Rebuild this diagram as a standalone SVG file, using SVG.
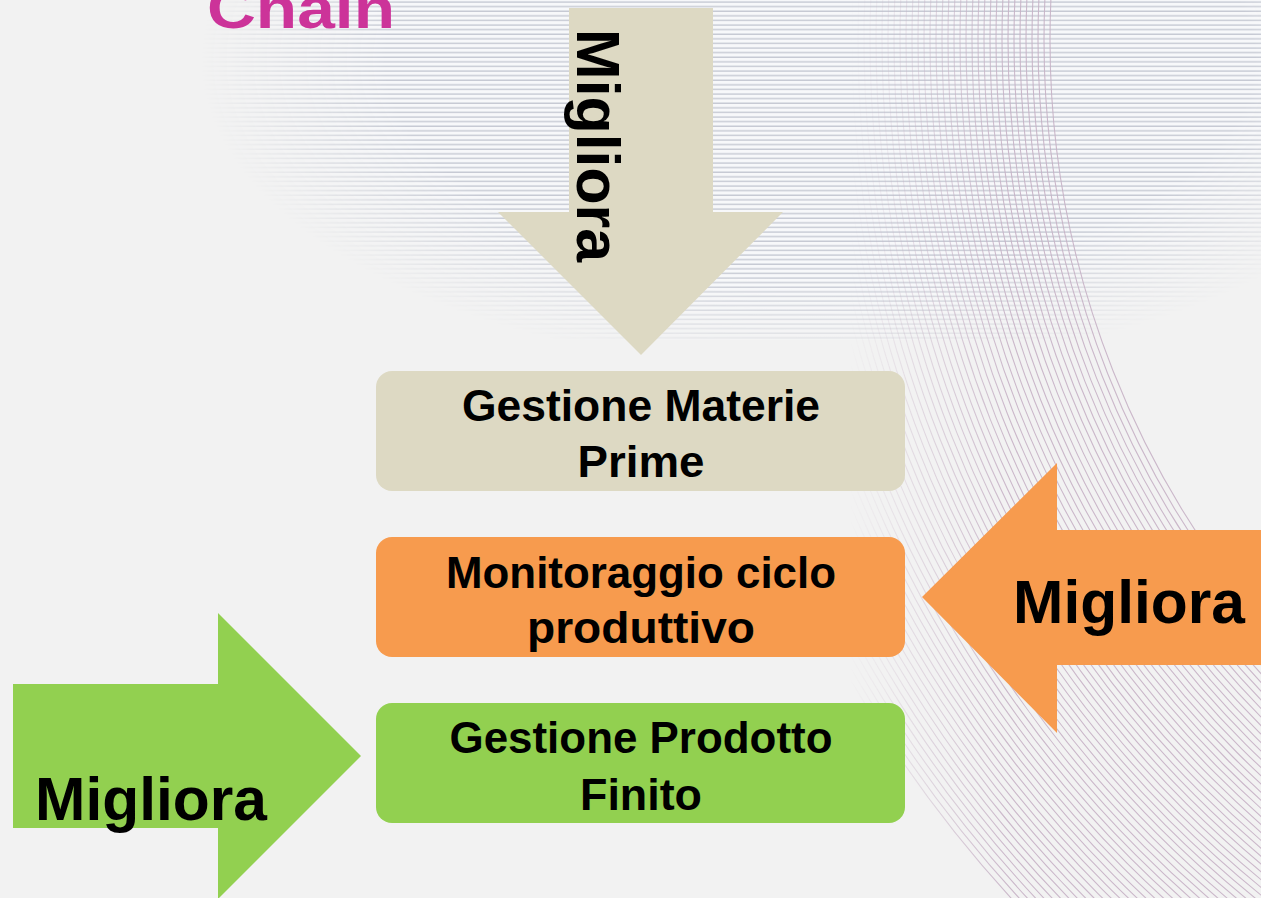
<svg xmlns="http://www.w3.org/2000/svg" width="1261" height="898" viewBox="0 0 1261 898">
<style>
.lbl{font-family:"Liberation Sans",Arial,sans-serif;font-weight:bold;fill:#000;}
.box{font-size:44px;text-anchor:middle;}
.arr{font-size:62px;}
.arc{fill:none;stroke:#c7b2c6;stroke-width:1.1;}
</style>
<defs>
<pattern id="hl" width="20" height="4.6" patternUnits="userSpaceOnUse">
<rect width="20" height="4.6" fill="#f7f8fa"/>
<line x1="0" y1="2" x2="20" y2="2" stroke="#b9bdc9" stroke-width="1.1"/>
</pattern>
<radialGradient id="gh" gradientUnits="userSpaceOnUse" cx="820" cy="60" r="620" gradientTransform="translate(820 60) scale(1 0.5) translate(-820 -60)">
<stop offset="0" stop-color="#fff"/>
<stop offset="0.7" stop-color="#fff"/>
<stop offset="1" stop-color="#000"/>
</radialGradient>
<mask id="mh"><rect width="1261" height="898" fill="url(#gh)"/></mask>
<linearGradient id="gc" gradientUnits="userSpaceOnUse" x1="850" y1="0" x2="1010" y2="0">
<stop offset="0" stop-color="#000"/>
<stop offset="1" stop-color="#fff"/>
</linearGradient>
<mask id="mc"><rect width="1261" height="898" fill="url(#gc)"/></mask>
</defs>
<rect width="1261" height="898" fill="#f2f2f2"/>
<g id="background-pattern">
<rect x="200" y="0" width="1061" height="340" fill="url(#hl)" mask="url(#mh)"/>
<g mask="url(#mc)" opacity="0.9">
<circle class="arc" cx="1950" cy="40" r="900"/><circle class="arc" cx="1950" cy="40" r="906"/><circle class="arc" cx="1950" cy="40" r="912"/><circle class="arc" cx="1950" cy="40" r="918"/><circle class="arc" cx="1950" cy="40" r="924"/><circle class="arc" cx="1950" cy="40" r="930"/><circle class="arc" cx="1950" cy="40" r="936"/><circle class="arc" cx="1950" cy="40" r="942"/><circle class="arc" cx="1950" cy="40" r="948"/><circle class="arc" cx="1950" cy="40" r="954"/><circle class="arc" cx="1950" cy="40" r="960"/><circle class="arc" cx="1950" cy="40" r="966"/><circle class="arc" cx="1950" cy="40" r="972"/><circle class="arc" cx="1950" cy="40" r="978"/><circle class="arc" cx="1950" cy="40" r="984"/><circle class="arc" cx="1950" cy="40" r="990"/><circle class="arc" cx="1950" cy="40" r="996"/><circle class="arc" cx="1950" cy="40" r="1002"/><circle class="arc" cx="1950" cy="40" r="1008"/><circle class="arc" cx="1950" cy="40" r="1014"/><circle class="arc" cx="1950" cy="40" r="1020"/><circle class="arc" cx="1950" cy="40" r="1026"/><circle class="arc" cx="1950" cy="40" r="1032"/><circle class="arc" cx="1950" cy="40" r="1038"/><circle class="arc" cx="1950" cy="40" r="1044"/><circle class="arc" cx="1950" cy="40" r="1050"/><circle class="arc" cx="1950" cy="40" r="1056"/><circle class="arc" cx="1950" cy="40" r="1062"/><circle class="arc" cx="1950" cy="40" r="1068"/><circle class="arc" cx="1950" cy="40" r="1074"/><circle class="arc" cx="1950" cy="40" r="1080"/><circle class="arc" cx="1950" cy="40" r="1086"/><circle class="arc" cx="1950" cy="40" r="1092"/><circle class="arc" cx="1950" cy="40" r="1098"/><circle class="arc" cx="1950" cy="40" r="1104"/><circle class="arc" cx="1950" cy="40" r="1110"/><circle class="arc" cx="1950" cy="40" r="1116"/><circle class="arc" cx="1950" cy="40" r="1122"/><circle class="arc" cx="1950" cy="40" r="1128"/><circle class="arc" cx="1950" cy="40" r="1134"/><circle class="arc" cx="1950" cy="40" r="1140"/><circle class="arc" cx="1950" cy="40" r="1146"/><circle class="arc" cx="1950" cy="40" r="1152"/><circle class="arc" cx="1950" cy="40" r="1158"/><circle class="arc" cx="1950" cy="40" r="1164"/><circle class="arc" cx="1950" cy="40" r="1170"/><circle class="arc" cx="1950" cy="40" r="1176"/><circle class="arc" cx="1950" cy="40" r="1182"/><circle class="arc" cx="1950" cy="40" r="1188"/><circle class="arc" cx="1950" cy="40" r="1194"/><circle class="arc" cx="1950" cy="40" r="1200"/><circle class="arc" cx="1950" cy="40" r="1206"/><circle class="arc" cx="1950" cy="40" r="1212"/><circle class="arc" cx="1950" cy="40" r="1218"/><circle class="arc" cx="1950" cy="40" r="1224"/><circle class="arc" cx="1950" cy="40" r="1230"/><circle class="arc" cx="1950" cy="40" r="1236"/><circle class="arc" cx="1950" cy="40" r="1242"/><circle class="arc" cx="1950" cy="40" r="1248"/><circle class="arc" cx="1950" cy="40" r="1254"/><circle class="arc" cx="1950" cy="40" r="1260"/><circle class="arc" cx="1950" cy="40" r="1266"/><circle class="arc" cx="1950" cy="40" r="1272"/>
</g>
</g>
<text id="title" x="207" y="28" textLength="188" lengthAdjust="spacingAndGlyphs" style="font-family:'Liberation Sans',Arial,sans-serif;font-weight:bold;font-size:58px;fill:#cc3399">Chain</text>
<g id="connectors">
<g id="arrow-down">
<polygon points="569,8 713,8 713,212 783,212 641,355 498,212 569,212" fill="#ddd9c3"/>
<text class="lbl arr" transform="translate(577,29) rotate(90)" textLength="233" lengthAdjust="spacingAndGlyphs">Migliora</text>
</g>
<g id="arrow-right">
<polygon points="13,684 218,684 218,613 361,756 218,899 218,828 13,828" fill="#92d050"/>
<text class="lbl arr" x="35" y="820" textLength="232" lengthAdjust="spacingAndGlyphs">Migliora</text>
</g>
<g id="arrow-left">
<polygon points="1270,530 1057,530 1057,463 922,597 1057,733 1057,665 1270,665" fill="#f79b4e"/>
<text class="lbl arr" x="1013" y="623" textLength="232" lengthAdjust="spacingAndGlyphs">Migliora</text>
</g>
</g>
<g id="node-materie">
<rect x="376" y="371" width="529" height="120" rx="16" fill="#ddd9c3"/>
<text class="lbl box" x="641" y="421" textLength="358" lengthAdjust="spacingAndGlyphs">Gestione Materie</text>
<text class="lbl box" x="641" y="477" textLength="127" lengthAdjust="spacingAndGlyphs">Prime</text>
</g>
<g id="node-monitoraggio">
<rect x="376" y="537" width="529" height="120" rx="16" fill="#f79b4e"/>
<text class="lbl box" x="641" y="588" textLength="390" lengthAdjust="spacingAndGlyphs">Monitoraggio ciclo</text>
<text class="lbl box" x="641" y="643" textLength="228" lengthAdjust="spacingAndGlyphs">produttivo</text>
</g>
<g id="node-prodotto">
<rect x="376" y="703" width="529" height="120" rx="16" fill="#92d050"/>
<text class="lbl box" x="641" y="753" textLength="383" lengthAdjust="spacingAndGlyphs">Gestione Prodotto</text>
<text class="lbl box" x="641" y="810" textLength="122" lengthAdjust="spacingAndGlyphs">Finito</text>
</g>
</svg>
